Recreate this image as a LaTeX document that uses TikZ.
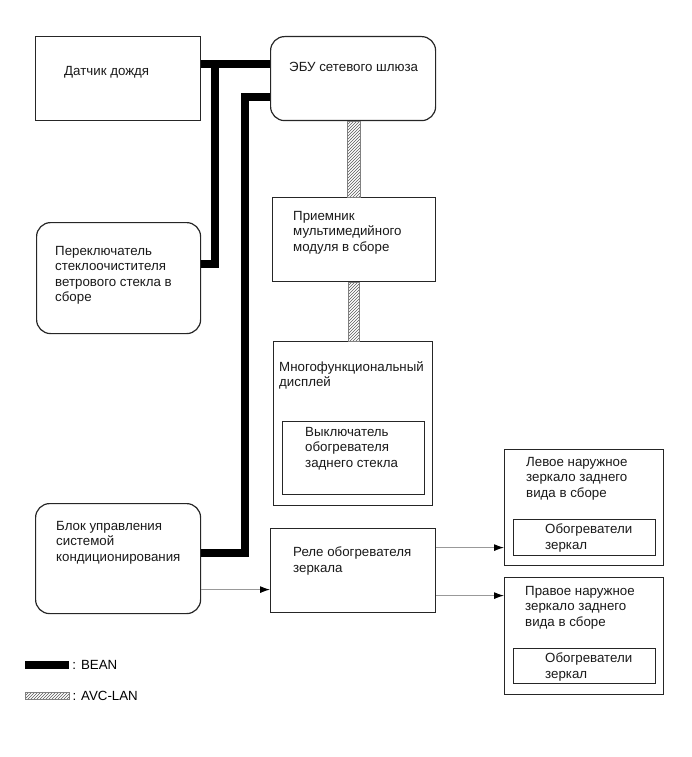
\documentclass[tikz,border=0pt]{standalone}
\usepackage{fontspec}
\setmainfont{Liberation Sans}
\usetikzlibrary{patterns,arrows.meta}
\begin{document}
\begin{tikzpicture}[x=1pt,y=-1pt,
  box/.style={draw=black!85,line width=1.2pt,rectangle,anchor=north west,inner sep=0pt},
  rbox/.style={box,rounded corners=14pt},
  txt/.style={anchor=north west,inner sep=0pt,align=left,font=\fontsize{13.3}{15.5}\selectfont,text=black!90},
  bean/.style={line width=8pt,draw=black,line join=miter},
  avc/.style={draw=black!50,line width=0.7pt,pattern=north east lines,pattern color=black!65},
  thinarrow/.style={draw=black!40,line width=1pt,-{Latex[length=10pt,width=7pt,color=black]}}]
\useasboundingbox (0,0) rectangle (691,757);
% boxes
\node[box,minimum width=165,minimum height=84] (rain) at (35,36) {};
\node[rbox,minimum width=165,minimum height=84] (ecu) at (270,36) {};
\node[rbox,minimum width=164,minimum height=111] (wiper) at (36,222) {};
\node[box,minimum width=163,minimum height=84] (recv) at (272,197) {};
\node[box,minimum width=159,minimum height=164] (disp) at (273,341) {};
\node[box,minimum width=142,minimum height=73] (rdsw) at (282,421) {};
\node[rbox,minimum width=165,minimum height=110] (ac) at (35,503) {};
\node[box,minimum width=165,minimum height=84] (relay) at (270,528) {};
\node[box,minimum width=159,minimum height=116] (lmir) at (504,449) {};
\node[box,minimum width=142,minimum height=36] (lheat) at (513,519) {};
\node[box,minimum width=159,minimum height=117] (rmir) at (504,577) {};
\node[box,minimum width=142,minimum height=35] (rheat) at (513,648) {};
% texts
\node[txt] (train) at (64,66) {Датчик дождя};
\node[txt] (tecu) at (289,62) {ЭБУ сетевого шлюза};
\node[txt] (twiper) at (55,246) {Переключатель\\стеклоочистителя\\ветрового стекла в\\сборе};
\node[txt] (trecv) at (293,211) {Приемник\\мультимедийного\\модуля в сборе};
\node[txt] (tdisp) at (279,361) {Многофункциональный\\дисплей};
\node[txt] (trdsw) at (305,427) {Выключатель\\обогревателя\\заднего стекла};
\node[txt] (tac) at (56,521) {Блок управления\\системой\\кондиционирования};
\node[txt] (trelay) at (293,547) {Реле обогревателя\\зеркала};
\node[txt] (tlmir) at (526,457) {Левое наружное\\зеркало заднего\\вида в сборе};
\node[txt] (tlheat) at (545,524) {Обогреватели\\зеркал};
\node[txt] (trmir) at (525,586) {Правое наружное\\зеркало заднего\\вида в сборе};
\node[txt] (trheat) at (545,653) {Обогреватели\\зеркал};
% BEAN bus
\coordinate (j1) at (215,63);
\coordinate (j2) at (245,300);
\draw[bean] ([yshift=15pt]rain.east) -- ([yshift=15pt]ecu.west);
\draw[bean] (j1) |- ([yshift=14.5pt]wiper.east);
\draw[bean] ([yshift=-18pt]ecu.west) -| (j2) |- ([yshift=6pt]ac.east);
% AVC-LAN
\path[avc] ([xshift=-6pt]ecu.south) rectangle ([xshift=6pt]recv.north);
\path[avc] ([xshift=-6pt]recv.south) rectangle ([xshift=6pt]disp.north);
% thin connectors
\draw[thinarrow] ([yshift=-31pt]ac.east) -- ([yshift=-31pt]ac.east -| relay.west);
\draw[thinarrow] ([yshift=23pt]relay.east) -- ([yshift=23pt]relay.east -| lmir.west);
\draw[thinarrow] ([yshift=-25pt]relay.east) -- ([yshift=-25pt]relay.east -| rmir.west);
% legend
\node[rectangle,fill=black,minimum width=44,minimum height=8,inner sep=0pt] (legbean) at (47,665) {};
\node[anchor=west,inner sep=0pt,font=\fontsize{13.3}{15.5}\selectfont] (tlegbean) at ([xshift=3pt]legbean.east) {: BEAN};
\node[rectangle,draw=black!50,line width=0.7pt,pattern=north east lines,pattern color=black!65,minimum width=44,minimum height=7,inner sep=0pt] (legavc) at (47,696) {};
\node[anchor=west,inner sep=0pt,font=\fontsize{13.3}{15.5}\selectfont] (tlegavc) at ([xshift=3pt]legavc.east) {: AVC-LAN};
\end{tikzpicture}
\end{document}
